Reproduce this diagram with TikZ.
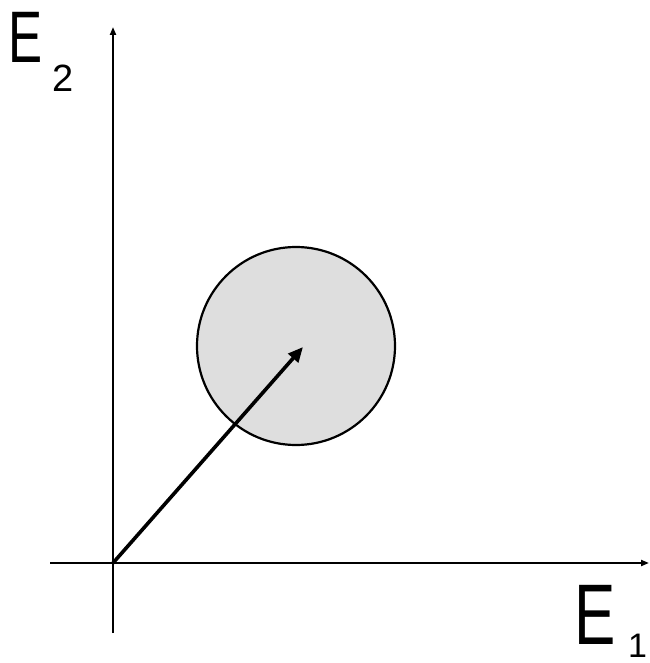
\documentclass[tikz,border=0pt]{standalone}
\usepackage{fontspec}
\setmainfont{Liberation Sans}
\usetikzlibrary{arrows.meta}
\begin{document}
\begin{tikzpicture}[x=1pt,y=-1pt,
  axis/.style={line width=2.2pt,-{Triangle[length=8pt,width=6pt]}},
  vec/.style={line width=3.6pt,-{Triangle[length=15pt,width=13pt]}},
  lbl/.style={inner sep=0pt,anchor=base west}]
\useasboundingbox (0,0) rectangle (649,663);
\coordinate (O) at (113,563);
\coordinate (xl) at (50,563);
\coordinate (xr) at (649,563);
\coordinate (yb) at (113,633);
\coordinate (yt) at (113,27);
\coordinate (tip) at (303,347);
\node[circle,draw,line width=2.2pt,fill=black!13,minimum size=198pt,inner sep=0pt] (c) at (296,346) {};
\draw[axis] (xl) -- (xr);
\draw[axis] (yb) -- (yt);
\draw[vec] (O) -- (tip);
\node[lbl,font=\fontsize{73}{73}\selectfont] (e2) at (8,63) {\scalebox{0.7}[1]{E}};
\node[lbl,font=\fontsize{38}{38}\selectfont] (s2) at (52,92) {2};
\node[lbl,font=\fontsize{86}{86}\selectfont] (e1) at (574,644) {\scalebox{0.72}[1]{E}};
\node[lbl,font=\fontsize{34}{34}\selectfont] (s1) at (628,657) {1};
\end{tikzpicture}
\end{document}
